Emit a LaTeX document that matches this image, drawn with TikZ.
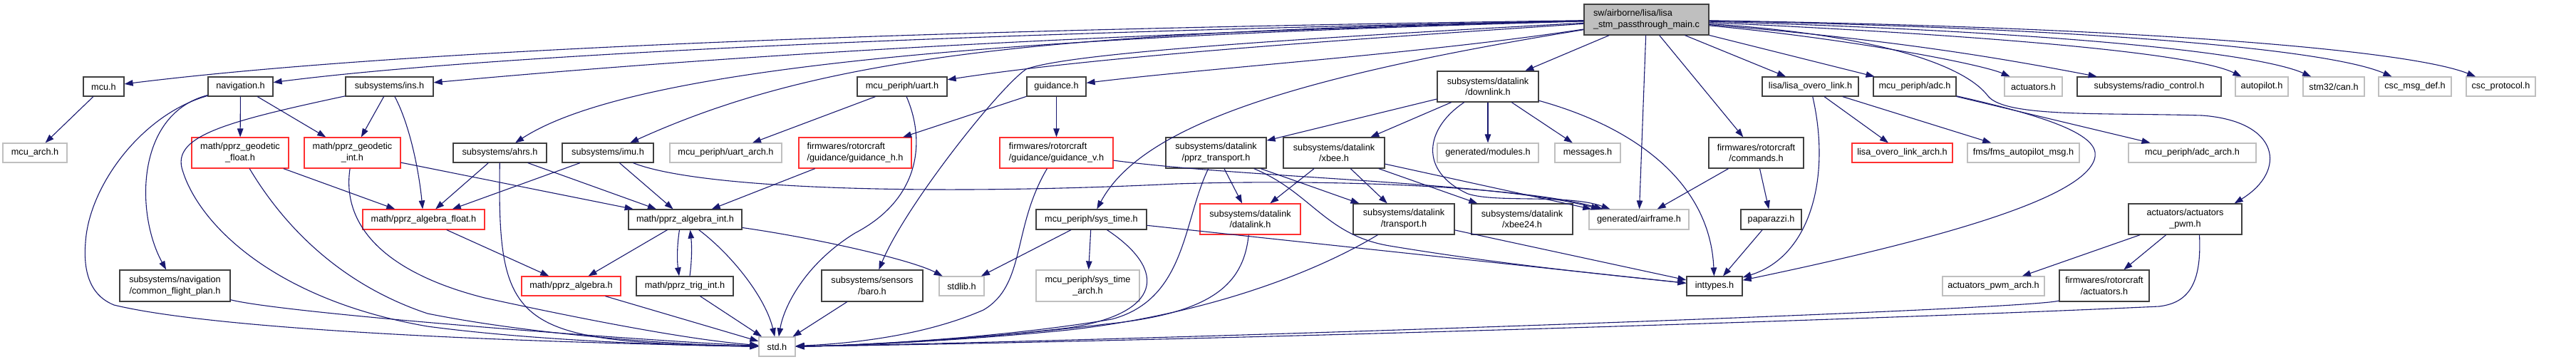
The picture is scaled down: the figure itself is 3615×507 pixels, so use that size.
\documentclass[tikz,border=0pt]{standalone}
\usepackage{fontspec}
\setmainfont{Liberation Sans}
\usetikzlibrary{arrows.meta}
\definecolor{edgec}{HTML}{191970}
\definecolor{bk}{HTML}{404040}
\definecolor{gr}{HTML}{BFBFBF}
\definecolor{rd}{HTML}{FF3030}
\definecolor{mainfill}{HTML}{BFBFBF}
\newcommand\nd[7]{\node[#6,minimum width={(#4)-(#2)},minimum height={(#5)-(#3)}] (#1) at ({((#2)+(#4))/2},{((#3)+(#5))/2}) {#7};}
\begin{document}
\begin{tikzpicture}[x=1pt,y=-1pt,
  box/.style={draw, rectangle, inner sep=0pt, line width=1.2pt, font=\fontsize{12.7}{15.7}\selectfont, align=center, fill=white},
  bb/.style={box, draw=bk},
  gb/.style={box, draw=gr},
  rb/.style={box, draw=rd},
  mb/.style={box, draw=bk, fill=mainfill, align=left},
  e/.style={draw=edgec, line width=1.1pt, -{Triangle[length=12pt,width=8.5pt]}}]
\fill[white] (0,0) rectangle (3615,507);
\useasboundingbox (0,0) rectangle (3615,507);
% nodes
\nd{main}{2223}{6}{2398}{49}{mb}{sw/airborne/lisa/lisa\\\_stm\_passthrough\_main.c}
\nd{mcu}{117}{108}{174}{135}{bb}{mcu.h}
\nd{nav}{292}{108}{383}{135}{bb}{navigation.h}
\nd{ins}{485}{108}{608}{135}{bb}{subsystems/ins.h}
\nd{uart}{1203}{108}{1329}{135}{bb}{mcu\_periph/uart.h}
\nd{guid}{1441}{108}{1524}{135}{bb}{guidance.h}
\nd{downlink}{2017}{100}{2159}{143}{bb}{subsystems/datalink\\/downlink.h}
\nd{lisalink}{2473}{108}{2608}{135}{bb}{lisa/lisa\_overo\_link.h}
\nd{adc}{2629}{108}{2745}{135}{bb}{mcu\_periph/adc.h}
\nd{act}{2813}{108}{2894}{135}{gb}{actuators.h}
\nd{radio}{2915}{108}{3117}{135}{bb}{subsystems/radio\_control.h}
\nd{autop}{3137}{108}{3211}{135}{gb}{autopilot.h}
\nd{can}{3232}{108}{3318}{135}{gb}{stm32/can.h}
\nd{cscdef}{3338}{108}{3440}{135}{gb}{csc\_msg\_def.h}
\nd{cscprot}{3461}{108}{3558}{135}{gb}{csc\_protocol.h}
\nd{mcuarch}{4}{201}{94}{228}{gb}{mcu\_arch.h}
\nd{geofl}{269}{193}{405}{236}{rb}{math/pprz\_geodetic\\\_float.h}
\nd{geoint}{427}{193}{562}{236}{rb}{math/pprz\_geodetic\\\_int.h}
\nd{ahrs}{636}{201}{767}{228}{bb}{subsystems/ahrs.h}
\nd{imu}{789}{201}{917}{228}{bb}{subsystems/imu.h}
\nd{uartarch}{940}{201}{1097}{228}{gb}{mcu\_periph/uart\_arch.h}
\nd{guidh}{1121}{193}{1279}{236}{rb,align=left}{firmwares/rotorcraft\\/guidance/guidance\_h.h}
\nd{guidv}{1403}{193}{1562}{236}{rb,align=left}{firmwares/rotorcraft\\/guidance/guidance\_v.h}
\nd{pprztr}{1636}{193}{1777}{236}{bb}{subsystems/datalink\\/pprz\_transport.h}
\nd{xbee}{1801}{193}{1943}{236}{bb}{subsystems/datalink\\/xbee.h}
\nd{modules}{2017}{201}{2159}{228}{gb}{generated/modules.h}
\nd{messages}{2182}{201}{2274}{228}{gb}{messages.h}
\nd{commands}{2398}{193}{2531}{236}{bb}{firmwares/rotorcraft\\/commands.h}
\nd{lisaarch}{2599}{201}{2740}{228}{rb}{lisa\_overo\_link\_arch.h}
\nd{fms}{2761}{201}{2918}{228}{gb}{fms/fms\_autopilot\_msg.h}
\nd{adcarch}{2987}{201}{3166}{228}{gb}{mcu\_periph/adc\_arch.h}
\nd{algfl}{509}{294}{680}{322}{rb}{math/pprz\_algebra\_float.h}
\nd{algint}{882}{294}{1041}{322}{bb}{math/pprz\_algebra\_int.h}
\nd{systime}{1454}{294}{1609}{322}{bb}{mcu\_periph/sys\_time.h}
\nd{datalink}{1684}{286}{1825}{329}{rb}{subsystems/datalink\\/datalink.h}
\nd{transport}{1899}{286}{2041}{329}{bb}{subsystems/datalink\\/transport.h}
\nd{xbee24}{2065}{286}{2207}{329}{bb}{subsystems/datalink\\/xbee24.h}
\nd{airframe}{2230}{294}{2370}{322}{gb}{generated/airframe.h}
\nd{paparazzi}{2443}{294}{2528}{322}{bb}{paparazzi.h}
\nd{actpwm}{2987}{286}{3146}{329}{bb}{actuators/actuators\\\_pwm.h}
\nd{cfp}{168}{379}{323}{423}{bb}{subsystems/navigation\\/common\_flight\_plan.h}
\nd{alg}{732}{388}{871}{415}{rb}{math/pprz\_algebra.h}
\nd{trig}{893}{388}{1029}{415}{bb}{math/pprz\_trig\_int.h}
\nd{baro}{1153}{379}{1295}{423}{bb}{subsystems/sensors\\/baro.h}
\nd{stdlib}{1318}{388}{1381}{415}{gb}{stdlib.h}
\nd{systimearch}{1454}{379}{1599}{423}{gb}{mcu\_periph/sys\_time\\\_arch.h}
\nd{inttypes}{2367}{388}{2445}{415}{bb}{inttypes.h}
\nd{pwmarch}{2726}{388}{2869}{415}{gb}{actuators\_pwm\_arch.h}
\nd{fwact}{2890}{379}{3016}{423}{bb}{firmwares/rotorcraft\\/actuators.h}
\nd{std}{1065}{473}{1116}{500}{gb}{std.h}
% main fan
\draw[e] (main) .. controls (1400,40) and (600,65) .. (mcu);
\draw[e] (main) .. controls (1400,45) and (700,75) .. (nav);
\draw[e] (main) .. controls (1500,48) and (1000,80) .. (ins);
\draw[e] (main) .. controls (1500,50) and (900,85) .. (ahrs);
\draw[e] (main) .. controls (1450,45) and (1150,80) .. (imu);
\draw[e] (main) .. controls (1900,55) and (1550,78) .. (uart);
\draw[e] (main) .. controls (2000,75) and (1700,95) .. (guid);
\draw[e] (main) .. controls (1800,110) and (1600,180) .. (systime);
\draw[e] (main) .. controls (1800,55) and (1500,75) .. (1440,97) .. controls (1400,125) and (1270,290) .. (baro);
\draw[e] (main) -- (downlink);
\draw[e] (main) -- (airframe);
\draw[e] (main) -- (commands);
\draw[e] (main) -- (lisalink);
\draw[e] (main) -- (adc);
\draw[e] (main) .. controls (2600,55) and (2780,90) .. (act);
\draw[e] (main) .. controls (2650,55) and (2800,80) .. (radio);
\draw[e] (main) .. controls (2800,50) and (3080,75) .. (autop);
\draw[e] (main) .. controls (2900,45) and (3170,75) .. (can);
\draw[e] (main) .. controls (2950,40) and (3270,70) .. (cscdef);
\draw[e] (main) .. controls (3000,38) and (3380,70) .. (cscprot);
\draw[e] (main) .. controls (2650,50) and (2760,95) .. (2790,135) .. controls (2815,165) and (2950,158) .. (3090,162) .. controls (3200,170) and (3210,240) .. ([xshift=-11pt]actpwm.north east);
% left part
\draw[e] (mcu) -- (mcuarch);
\draw[e] (nav) -- (geofl);
\draw[e] (nav) -- (geoint);
\draw[e] (nav) .. controls (190,160) and (190,300) .. (cfp);
\draw[e] (nav) .. controls (200,160) and (125,260) .. (120,340) .. controls (115,400) and (140,420) .. (160,428) .. controls (300,462) and (700,480) .. (std);
\draw[e] (ins) -- (geoint);
\draw[e] (ins) .. controls (575,175) and (588,240) .. (algfl);
\draw[e] (ins) .. controls (320,170) and (245,190) .. (255,235) .. controls (275,310) and (380,420) .. (600,458) .. controls (750,478) and (950,485) .. (std);
\draw[e] (geofl) -- (algfl);
\draw[e] (geofl) .. controls (400,320) and (480,400) .. (600,440) .. controls (750,470) and (950,484) .. (std);
\draw[e] (geoint) -- (algint);
\draw[e] (geoint) .. controls (480,310) and (530,380) .. (680,418) .. controls (850,455) and (980,478) .. (std);
\draw[e] (ahrs) -- (algfl);
\draw[e] (ahrs) -- (algint);
\draw[e] (ahrs) .. controls (698,460) and (720,480) .. (std);
\draw[e] (imu) -- (algfl);
\draw[e] (imu) -- (algint);
\draw[e] (imu) .. controls (980,265) and (1300,275) .. (1650,258) .. controls (1900,250) and (2150,265) .. (airframe);
\draw[e] (uart) -- (uartarch);
\draw[e] (uart) .. controls (1300,200) and (1290,280) .. (1200,327) .. controls (1130,370) and (1100,430) .. (std);
\draw[e] (guid) -- (guidh);
\draw[e] (guid) -- (guidv);
\draw[e] (guidh) -- (algint);
\draw[e] (guidv) .. controls (1750,250) and (2100,255) .. (airframe);
\draw[e] (guidv) .. controls (1420,320) and (1440,400) .. (1380,435) .. controls (1300,470) and (1200,482) .. (std);
\draw[e] (systime) -- (systimearch);
\draw[e] (systime) -- (stdlib);
\draw[e] (systime) -- (inttypes);
\draw[e] (systime) .. controls (1640,380) and (1630,440) .. (1500,460) .. controls (1350,478) and (1200,485) .. (std);
\draw[e] (baro) -- (std);
\draw[e] (algint) -- (alg);
\draw[e] ([xshift=-8pt]algint.south) .. controls (950,345) and (950,365) .. ([xshift=-8pt]trig.north);
\draw[e] ([xshift=7pt]trig.north) .. controls (971,365) and (971,345) .. ([xshift=7pt]algint.south);
\draw[e] (algint) .. controls (1030,360) and (1075,420) .. (std);
\draw[e] (algint) .. controls (1150,335) and (1280,365) .. (stdlib);
\draw[e] (algfl) -- (alg);
\draw[e] (alg) -- (std);
\draw[e] (trig) -- (std);
\draw[e] (cfp) .. controls (400,440) and (900,478) .. (std);
% datalink area
\draw[e] (downlink) -- (pprztr);
\draw[e] (downlink) -- (xbee);
\draw[e] (downlink) -- (modules);
\draw[e] (downlink) -- (messages);
\draw[e] (downlink) .. controls (2000,180) and (1990,240) .. (2060,272) .. controls (2100,285) and (2200,272) .. (airframe);
\draw[e] (downlink) .. controls (2300,180) and (2400,260) .. (inttypes);
\draw[e] (pprztr) -- (datalink);
\draw[e] (pprztr) -- (transport);
\draw[e] (pprztr) .. controls (1660,310) and (1665,420) .. (1560,448) .. controls (1400,475) and (1200,485) .. (std);
\draw[e] (pprztr) .. controls (1840,270) and (1860,330) .. (1950,345) .. controls (2100,370) and (2250,385) .. (inttypes);
\draw[e] (xbee) -- (datalink);
\draw[e] (xbee) -- (transport);
\draw[e] (xbee) -- (xbee24);
\draw[e] (xbee) -- (airframe);
\draw[e] (datalink) .. controls (1745,400) and (1700,440) .. (1550,455) .. controls (1400,474) and (1200,485) .. (std);
\draw[e] (transport) .. controls (1850,380) and (1700,440) .. (1500,463) .. controls (1350,478) and (1200,485) .. (std);
\draw[e] (transport) -- (inttypes);
% right part
\draw[e] (commands) -- (airframe);
\draw[e] (commands) -- (paparazzi);
\draw[e] (paparazzi) -- (inttypes);
\draw[e] (lisalink) -- (lisaarch);
\draw[e] (lisalink) -- (fms);
\draw[e] (lisalink) .. controls (2570,250) and (2540,360) .. (inttypes);
\draw[e] (adc) -- (adcarch);
\draw[e] (adc) .. controls (2880,165) and (2945,190) .. (2940,220) .. controls (2930,280) and (2700,340) .. (inttypes);
\draw[e] (actpwm) -- (pwmarch);
\draw[e] (actpwm) -- (fwact);
\draw[e] ([xshift=20pt]actpwm.south) .. controls (3090,400) and (3070,425) .. (3030,430) .. controls (2600,450) and (1600,480) .. (std);
\draw[e] (fwact) .. controls (2850,435) and (1600,478) .. (std);
\end{tikzpicture}
\end{document}
